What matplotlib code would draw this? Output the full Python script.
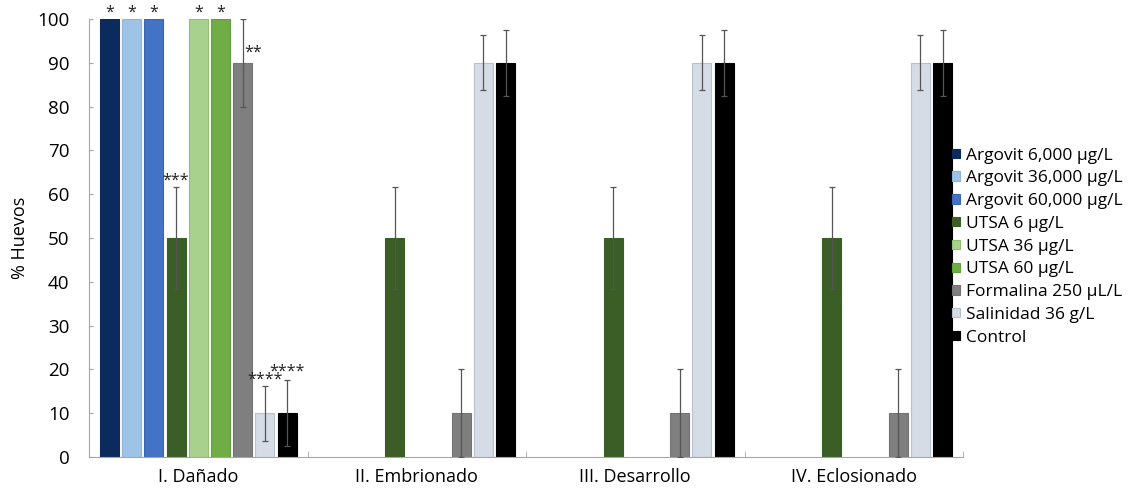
import numpy as np
import matplotlib
matplotlib.use("Agg")
import matplotlib.pyplot as plt

plt.rcParams['font.family'] = ['Open Sans', 'DejaVu Sans']

categories = ['I. Dañado', 'II. Embrionado', 'III. Desarrollo', 'IV. Eclosionado']
series = ['Argovit 6,000 µg/L', 'Argovit 36,000 µg/L', 'Argovit 60,000 µg/L',
          'UTSA 6 µg/L', 'UTSA 36 µg/L', 'UTSA 60 µg/L',
          'Formalina 250 µL/L', 'Salinidad 36 g/L', 'Control']
colors = ['#0b2a5e', '#9dc3e6', '#4472c4', '#3b5e26', '#a9d18e', '#70ad47',
          '#7f7f7f', '#d6dce5', '#000000']
edges = ['#0b2a5e', '#8fb4d8', '#3d66b0', '#3b5e26', '#8fbf72', '#62a03c',
         '#747474', '#b8c0cc', '#000000']

argovit_6 = [100, 0, 0, 0]
argovit_36 = [100, 0, 0, 0]
argovit_60 = [100, 0, 0, 0]
utsa_6 = [50, 50, 50, 50]
utsa_36 = [100, 0, 0, 0]
utsa_60 = [100, 0, 0, 0]
formalina = [90, 10, 10, 10]
salinidad = [10, 90, 90, 90]
control = [10, 90, 90, 90]
values = [argovit_6, argovit_36, argovit_60, utsa_6, utsa_36, utsa_60,
          formalina, salinidad, control]

err_utsa_6 = 11.7
err_formalina = 10
err_salinidad = 6.3
err_control = 7.5
errors = [0, 0, 0, err_utsa_6, 0, 0, err_formalina, err_salinidad, err_control]

# significance marks: (series index, category index, text, y)
marks = [(0, 0, '*', 101.4), (1, 0, '*', 101.4), (2, 0, '*', 101.4),
         (4, 0, '*', 101.4), (5, 0, '*', 101.4), (3, 0, '***', 63.0),
         (7, 0, '****', 17.6), (8, 0, '****', 19.4)]

fig = plt.figure(figsize=(11.31, 4.95), dpi=100)
ax = fig.add_axes([0.0787, 0.0768, 0.7728, 0.8848])

x = np.arange(len(categories))
slot = 0.1017
width = 0.087
n = len(series)
for i in range(n):
    pos = x + (i - (n - 1) / 2) * slot
    vals = np.array(values[i], dtype=float)
    keep = vals > 0
    ax.bar(pos[keep], vals[keep], width, color=colors[i], edgecolor=edges[i],
           linewidth=0.8, label=series[i], zorder=2)
    if errors[i] > 0:
        ax.errorbar(pos[keep], vals[keep], yerr=errors[i], fmt='none',
                    ecolor='#555555', elinewidth=0.9, capsize=2.5, capthick=0.9,
                    zorder=3)

for si, ci, txt, yv in marks:
    ax.text(x[ci] + (si - (n - 1) / 2) * slot, yv, txt, ha='center', va='center',
            fontsize=11.5, color='#222222', clip_on=False)
# "**" next to the Formalina error bar
ax.text(x[0] + (6 - (n - 1) / 2) * slot + 0.005, 92.3, '**', ha='left', va='center',
        fontsize=11.5, color='#222222')

ax.set_xlim(-0.5, len(categories) - 0.5)
ax.set_ylim(0, 100)
ax.set_yticks(np.arange(0, 101, 10))
ax.set_xticks(x)
ax.set_xticklabels(categories, fontsize=13)
ax.set_xticks(np.arange(0.5, len(categories), 1), minor=True)
ax.tick_params(axis='x', which='major', length=0, pad=8)
ax.tick_params(axis='x', which='minor', direction='in', length=4, color='#a6a6a6')
ax.tick_params(axis='y', labelsize=13.5, direction='in', length=3,
               color='#a6a6a6', pad=14)
for s in ['top', 'right']:
    ax.spines[s].set_visible(False)
for s in ['left', 'bottom']:
    ax.spines[s].set_color('#a6a6a6')
ax.set_ylabel('% Huevos', fontsize=13, labelpad=6)

fig.legend(loc='upper left', bbox_to_anchor=(0.836, 0.716), frameon=False,
           fontsize=12.5, handlelength=0.45, handleheight=0.45, handletextpad=0.35,
           labelspacing=0.39, borderaxespad=0)

fig.savefig('out.png', dpi=100)
